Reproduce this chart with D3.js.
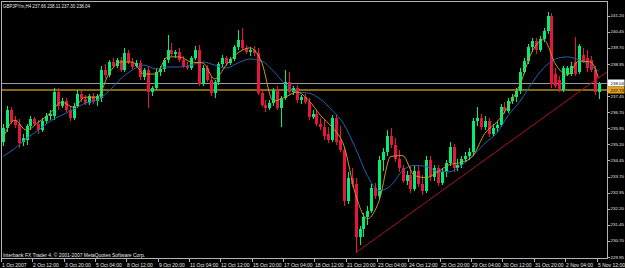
<!DOCTYPE html>
<html lang="en">
<head>
<meta charset="utf-8">
<script src="https://d3js.org/d3.v7.min.js"></script>
<style>
    body {
        margin: 0px;
        background: #000;
    }
    svg {
        display: block;
    }
    text {
        font-family: "Liberation Sans", Arial, sans-serif;
        font-size: 5px;
        fill: #e8e8e8;
    }
</style>
</head>
<body>
<svg id="chart"></svg>
<script>
// GBPJPYm H4, 1 Oct - 5 Nov 2007 (one entry per bar)
var opens = [235.29,235.95,236.79,236.33,236.14,235.29,235.39,236.04,236.37,236.14,
    235.86,236.28,236.51,236.51,237.64,236.98,237.22,236.79,236.42,236.98,
    237.54,237.31,237.12,237.45,237.22,237.36,238.67,238.43,239.04,238.86,
    239.14,238.67,239.47,239.04,238.86,239.00,238.34,238.67,237.64,237.83,
    238.57,238.72,239.14,239.61,239.42,239.51,239.14,238.86,238.76,239.23,
    239.61,238.01,238.76,238.20,237.59,238.11,238.95,239.23,239.00,239.18,
    239.75,240.08,239.70,239.51,239.61,239.47,237.59,237.03,236.89,237.12,
    237.73,236.89,237.36,238.11,237.64,237.83,237.26,237.40,237.17,236.47,
    236.61,236.14,236.00,235.67,235.39,236.42,235.39,234.92,232.57,233.65,
    233.37,230.89,231.26,231.83,232.11,233.18,232.81,234.45,234.83,235.58,
    235.15,234.54,234.08,233.51,233.79,233.14,233.98,233.37,233.04,234.45,
    233.70,234.12,233.42,233.93,234.31,235.06,234.08,234.26,234.54,234.68,
    234.83,236.28,236.42,236.00,236.28,235.67,235.95,236.09,236.93,236.75,
    237.22,237.40,237.68,238.57,239.09,239.75,240.03,239.61,240.12,240.50,
    241.20,238.48,238.20,237.73,238.48,238.48,239.04,238.57,239.37,239.23,
    239.14,238.67,237.66];
var highs = [236.14,236.98,236.93,236.51,236.37,235.67,236.14,236.51,236.47,236.33,
    236.42,236.65,236.79,237.83,237.83,237.36,237.36,236.98,237.12,237.73,
    237.68,237.50,237.54,237.59,237.54,238.86,238.95,239.14,239.23,239.23,
    239.28,239.70,239.61,239.23,239.14,239.14,238.76,238.86,237.92,238.76,
    238.86,239.23,240.31,239.93,239.61,239.70,239.33,239.04,239.33,239.79,
    239.84,238.90,238.90,238.39,238.20,239.04,239.37,239.33,239.28,239.84,
    240.54,240.64,239.84,239.75,239.79,239.70,237.73,237.26,237.26,237.83,
    237.92,237.45,238.67,238.57,237.92,237.97,237.50,237.54,237.36,236.79,
    236.79,236.42,236.33,236.00,236.56,236.61,236.04,235.01,233.89,234.08,
    233.61,231.40,232.01,232.34,233.37,233.42,234.64,235.01,235.86,235.95,
    235.48,234.92,234.26,233.98,234.17,234.17,234.17,233.79,234.64,234.68,
    234.26,234.26,234.08,234.45,235.29,235.20,234.54,234.68,234.83,235.01,
    236.42,236.93,236.61,236.51,236.42,236.14,236.23,237.08,237.17,237.36,
    237.54,237.83,238.76,239.23,239.89,240.17,240.17,240.26,240.64,241.39,
    241.34,238.76,238.39,238.86,238.86,239.04,240.22,239.89,239.70,239.61,
    239.33,238.86,238.11];
var lows = [235.11,235.76,236.14,235.95,235.01,235.11,235.15,235.86,236.04,235.67,
    235.76,236.14,236.33,236.33,236.79,236.89,236.70,236.28,236.33,236.89,
    237.17,237.03,237.03,237.08,236.98,237.17,238.29,238.34,238.76,238.76,
    238.57,238.57,238.95,238.67,238.76,238.20,238.20,236.89,237.45,237.73,
    238.39,238.57,239.00,239.33,239.23,239.04,238.76,238.67,238.67,239.14,
    237.92,237.92,238.11,237.45,237.36,237.97,238.76,238.86,238.90,239.09,
    239.61,239.61,239.42,239.33,239.33,237.50,236.93,236.70,236.79,236.98,
    236.79,236.00,237.26,237.54,237.50,237.12,237.08,237.08,236.33,236.37,
    236.04,235.86,235.39,235.25,235.29,235.15,234.83,232.34,232.43,233.23,
    230.14,230.51,230.89,231.45,232.01,232.67,232.67,233.98,234.68,235.01,
    234.36,233.89,233.42,233.33,232.95,233.04,233.23,232.86,232.95,233.51,
    233.51,233.28,233.33,233.70,234.17,233.89,233.98,234.08,234.36,234.45,
    234.64,236.04,235.86,235.86,235.53,235.58,235.76,236.00,236.61,236.65,
    237.08,237.17,237.54,238.48,238.95,239.51,239.42,239.51,239.98,240.36,
    237.83,237.83,237.64,237.64,238.39,238.39,238.39,238.48,239.00,238.57,
    238.57,237.50,237.30];
var closes = [235.95,236.79,236.23,236.09,235.25,235.48,236.04,236.37,236.14,235.86,
    236.28,236.51,236.61,237.64,236.98,237.22,236.79,236.42,236.98,237.54,
    237.31,237.12,237.45,237.22,237.45,238.67,238.43,239.04,238.86,239.14,
    238.67,239.47,239.04,238.81,239.00,238.34,238.67,237.64,237.83,238.57,
    238.72,239.14,239.61,239.42,239.51,239.14,238.86,238.76,239.23,239.61,
    238.01,238.76,238.20,237.59,238.11,238.95,239.23,239.00,239.18,239.75,
    240.08,239.70,239.51,239.61,239.47,237.59,237.03,236.89,237.12,237.73,
    236.89,237.36,238.11,237.64,237.83,237.26,237.40,237.17,236.47,236.61,
    236.14,236.00,235.58,235.39,236.42,235.29,234.92,232.57,233.65,233.37,
    230.89,231.26,231.83,232.11,233.18,232.81,234.45,234.83,235.58,235.15,
    234.54,234.08,233.51,233.79,233.14,233.98,233.37,233.04,234.45,233.70,
    234.12,233.42,233.93,234.31,235.06,234.08,234.26,234.54,234.68,234.83,
    236.28,236.42,236.00,236.28,235.67,235.95,236.09,236.93,236.75,237.22,
    237.40,237.68,238.57,239.09,239.75,240.03,239.61,240.12,240.50,241.20,
    238.01,237.92,237.73,238.76,238.76,238.86,238.48,239.79,239.04,238.76,
    238.67,237.64,238.04];

// Moving averages, read every third bar
var maBars = [0,3,6,9,12,15,18,21,24,27,30,33,36,39,42,45,48,51,54,57,60,63,66,69,72,75,
    78,81,84,87,90,93,96,99,102,105,108,111,114,117,120,123,126,129,132,135,138,141,144,147,150,152];
var fastMA = [235.48,236.33,235.86,236.23,236.65,237.17,236.93,237.40,237.40,238.48,
    239.04,239.04,238.48,238.48,239.28,239.28,239.04,239.00,238.25,238.90,
    239.47,239.70,239.04,237.22,237.40,237.64,237.26,236.56,236.00,235.15,
    232.86,231.73,232.57,234.64,234.68,233.75,233.65,233.93,234.26,234.36,
    234.68,235.72,236.23,236.98,238.01,239.51,240.08,238.95,238.43,239.09,
    239.04,238.29];
var slowMA = [234.64,235.01,235.48,235.86,236.28,236.56,236.84,237.12,237.26,237.68,
    238.25,238.67,238.90,238.72,238.81,238.81,238.90,239.04,238.90,238.76,
    239.00,239.18,239.09,238.62,238.01,237.64,237.59,237.31,236.79,236.14,
    235.01,233.75,233.04,233.28,233.98,234.22,234.17,233.93,233.93,234.22,
    234.68,235.25,235.72,236.56,237.22,238.06,238.76,239.18,239.28,239.14,
    238.86,238.62];

// Axis labels
var priceTicks = [241.20,240.45,239.70,238.95,238.20,237.45,236.70,235.95,235.20,
    234.45,233.70,232.95,232.20,231.45,230.70,229.95];
var timeBars = [0,8,16,24,32,40,48,56,64,72,80,88,96,104,112,120,128,136,144,152];
var timeLabels = ["1 Oct 2007","2 Oct 12:00","3 Oct 20:00","5 Oct 04:00","8 Oct 12:00",
    "9 Oct 20:00","11 Oct 04:00","12 Oct 12:00","15 Oct 20:00","17 Oct 04:00",
    "18 Oct 12:00","21 Oct 20:00","23 Oct 04:00","24 Oct 12:00","25 Oct 20:00",
    "29 Oct 04:00","30 Oct 12:00","31 Oct 20:00","2 Nov 04:00","5 Nov 12:00"];

// Objects on the chart
var bidPrice = 238.04;
var hLinePrice = 237.74;
var trendBars = [90, 152];
var trendPrices = [230.14, 238.30];
var title = "GBPJPYm,H4  237.66 238.11 237.30 238.04";
var footer = "Interbank FX Trader 4, \u00a9 2001-2007 MetaQuotes Software Corp.";

// Variables
var width = 625;
var height = 268;
var plot = {left: 1.5, top: 1.5, right: 607.5, bottom: 258.5};
var upColor = "#00ee76";
var downColor = "#e8143c";
var axisFont = "4.4px";

var svg = d3.select("#chart")
    .attr("width", width)
    .attr("height", height);

svg.append("rect")
    .attr("width", width)
    .attr("height", height)
    .attr("fill", "#000");

var x = d3.scaleLinear().domain([0, 152]).range([3, 598.5]);
var y = d3.scaleLinear().domain([229.95, 241.20]).range([257, 15.7]);

svg.append("clipPath").attr("id", "clip")
    .append("rect")
    .attr("x", plot.left + 0.5)
    .attr("y", plot.top + 0.5)
    .attr("width", plot.right - plot.left - 1)
    .attr("height", plot.bottom - plot.top - 1);

var g = svg.append("g").attr("clip-path", "url(#clip)");

// Horizontal line and bid line
g.append("line")
    .attr("x1", plot.left).attr("x2", plot.right)
    .attr("y1", Math.round(y(hLinePrice))).attr("y2", Math.round(y(hLinePrice)))
    .attr("stroke", "#86680e")
    .attr("stroke-width", 2)
    .attr("shape-rendering", "crispEdges");

g.append("line")
    .attr("x1", plot.left).attr("x2", plot.right)
    .attr("y1", Math.round(y(bidPrice)) + 0.5).attr("y2", Math.round(y(bidPrice)) + 0.5)
    .attr("stroke", "#9a9aa8")
    .attr("stroke-width", 1)
    .attr("shape-rendering", "crispEdges");

// Candles
var bars = d3.range(opens.length);
var candle = g.selectAll("g.candle")
    .data(bars)
    .enter().append("g")
    .attr("class", "candle")
    .attr("shape-rendering", "crispEdges");

candle.append("line")
    .attr("x1", function(i) { return Math.round(x(i)) + 0.5; })
    .attr("x2", function(i) { return Math.round(x(i)) + 0.5; })
    .attr("y1", function(i) { return y(highs[i]); })
    .attr("y2", function(i) { return y(lows[i]); })
    .attr("stroke", function(i) { return closes[i] >= opens[i] ? upColor : downColor; });

candle.append("rect")
    .attr("x", function(i) { return Math.round(x(i)) - 1; })
    .attr("width", 3)
    .attr("y", function(i) { return y(Math.max(opens[i], closes[i])); })
    .attr("height", function(i) { return Math.max(1, Math.abs(y(opens[i]) - y(closes[i]))); })
    .attr("fill", function(i) { return closes[i] >= opens[i] ? upColor : downColor; });

// Moving averages
var maLine = function(vals) {
    return d3.line()
        .x(function(d, k) { return x(maBars[k]); })
        .y(function(d) { return y(d); })
        .curve(d3.curveMonotoneX)(vals);
};

g.append("path")
    .attr("d", maLine(slowMA))
    .attr("fill", "none")
    .attr("stroke", "#2064b0")
    .attr("stroke-width", 1);

g.append("path")
    .attr("d", maLine(fastMA))
    .attr("fill", "none")
    .attr("stroke", "#c89a20")
    .attr("stroke-width", 1);

// Trend line (ray to the right edge)
var tx0 = x(trendBars[0]), ty0 = y(trendPrices[0]);
var tx1 = x(trendBars[1]), ty1 = y(trendPrices[1]);
var slope = (ty1 - ty0) / (tx1 - tx0);
g.append("line")
    .attr("x1", tx0).attr("y1", ty0)
    .attr("x2", plot.right).attr("y2", ty0 + slope * (plot.right - tx0))
    .attr("stroke", "#b0141e")
    .attr("stroke-width", 1);

// Frame
svg.append("rect")
    .attr("x", plot.left).attr("y", plot.top)
    .attr("width", plot.right - plot.left)
    .attr("height", plot.bottom - plot.top)
    .attr("fill", "none")
    .attr("stroke", "#b4b4b4")
    .attr("shape-rendering", "crispEdges");

// Price axis (labels under the line boxes are hidden, as in the terminal)
var boxPrices = [bidPrice, hLinePrice];
var shownTicks = priceTicks.filter(function(p) {
    return boxPrices.every(function(b) { return Math.abs(y(p) - y(b)) > 5; });
});
var pAxis = svg.append("g");
pAxis.selectAll("line")
    .data(priceTicks)
    .enter().append("line")
    .attr("shape-rendering", "crispEdges")
    .attr("x1", plot.right).attr("x2", plot.right + 2)
    .attr("y1", function(d) { return Math.round(y(d)) + 0.5; })
    .attr("y2", function(d) { return Math.round(y(d)) + 0.5; })
    .attr("stroke", "#b4b4b4");
pAxis.selectAll("text")
    .data(shownTicks)
    .enter().append("text")
    .attr("x", plot.right + 3)
    .attr("y", function(d) { return y(d); })
    .attr("dy", "0.35em")
    .style("font-size", axisFont)
    .text(function(d) { return d.toFixed(2); });

// Time axis
var tAxis = svg.append("g");
tAxis.selectAll("line")
    .data(timeBars)
    .enter().append("line")
    .attr("shape-rendering", "crispEdges")
    .attr("x1", function(d) { return Math.round(x(d)) - 1.5; })
    .attr("x2", function(d) { return Math.round(x(d)) - 1.5; })
    .attr("y1", plot.bottom).attr("y2", plot.bottom + 3)
    .attr("stroke", "#b4b4b4");
tAxis.selectAll("text")
    .data(timeBars)
    .enter().append("text")
    .attr("x", function(d) { return Math.max(2, Math.round(x(d)) - 1); })
    .attr("y", 266.5)
    .text(function(d, k) { return timeLabels[k]; });

// Price labels of the lines
var boxes = [{p: bidPrice, fill: "#ffffff"}, {p: hLinePrice, fill: "#e0a020"}];
var box = svg.selectAll("g.box")
    .data(boxes)
    .enter().append("g")
    .attr("class", "box");
box.append("rect")
    .attr("x", plot.right + 0.5)
    .attr("y", function(d) { return Math.round(y(d.p)) - 3.5; })
    .attr("width", width - plot.right - 1)
    .attr("height", 7)
    .attr("fill", function(d) { return d.fill; });
box.append("text")
    .attr("x", plot.right + 3)
    .attr("y", function(d) { return Math.round(y(d.p)); })
    .attr("dy", "0.35em")
    .style("font-size", axisFont)
    .style("fill", "#000")
    .text(function(d) { return d.p.toFixed(2); });

// Title and footer
svg.append("text")
    .attr("x", 3).attr("y", 7.5)
    .attr("textLength", 87)
    .attr("lengthAdjust", "spacingAndGlyphs")
    .style("font-size", "5px")
    .text(title);
svg.append("text")
    .attr("x", 3).attr("y", 256.5)
    .attr("textLength", 142)
    .attr("lengthAdjust", "spacingAndGlyphs")
    .style("font-size", "5px")
    .text(footer);
</script>
</body>
</html>
